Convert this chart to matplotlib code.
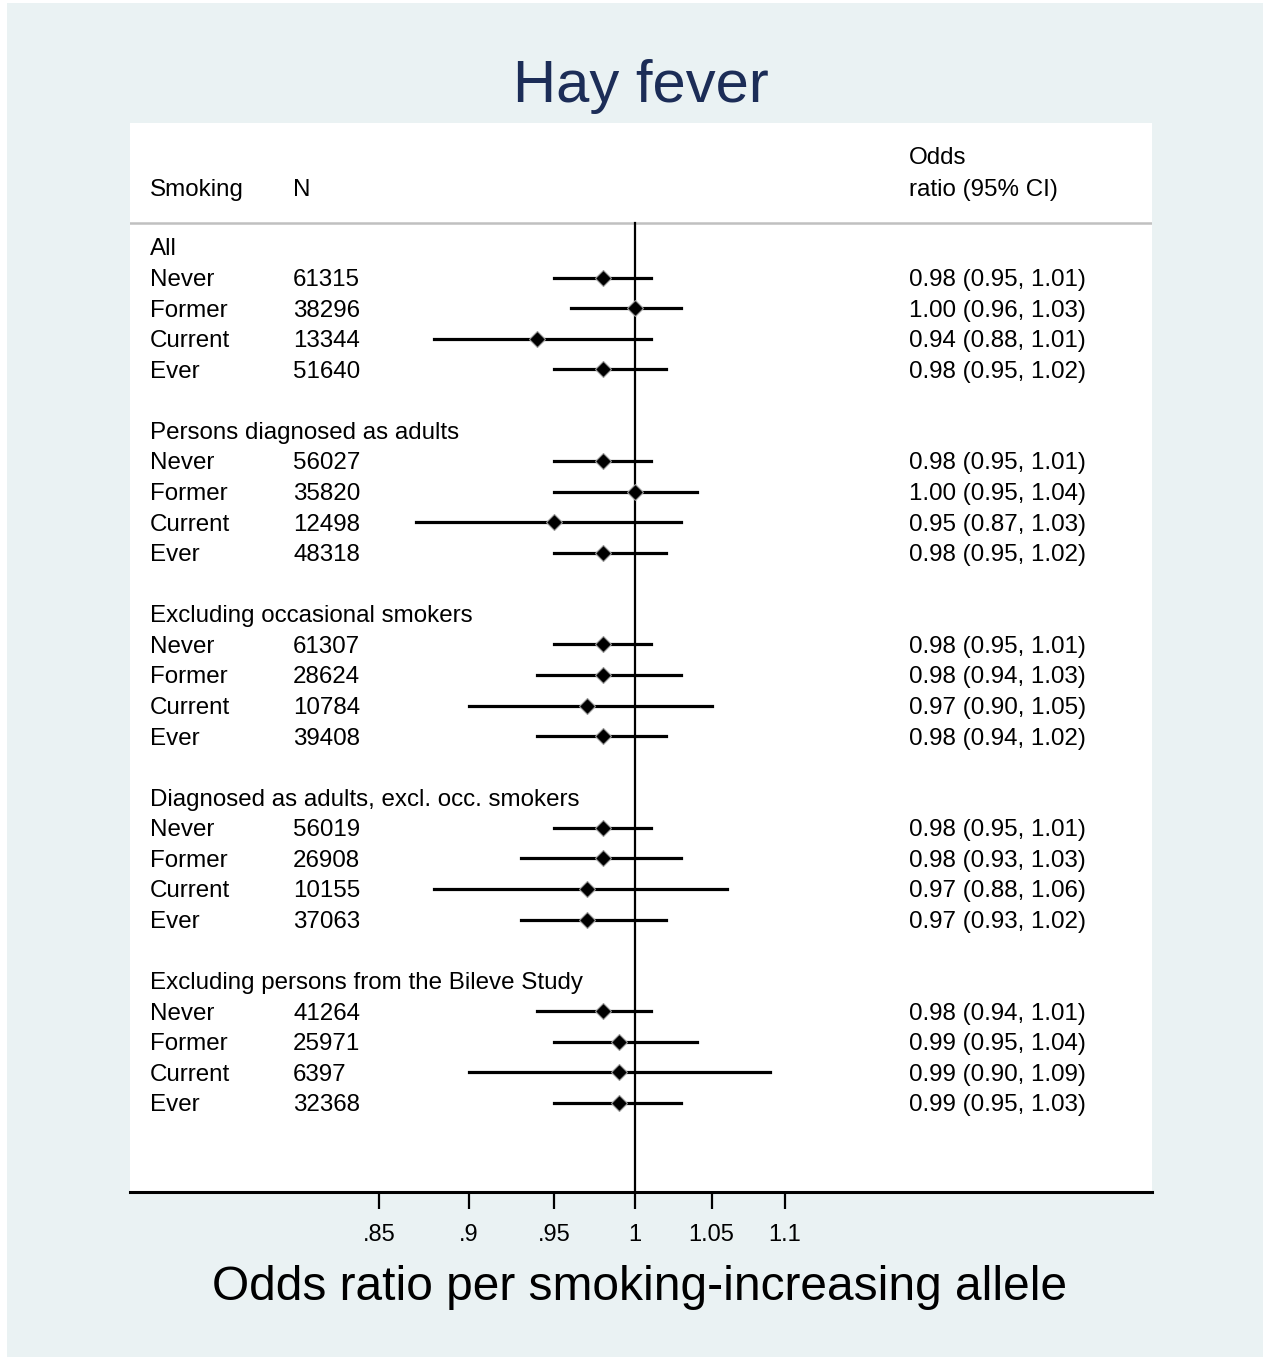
import matplotlib.pyplot as plt
from matplotlib.patches import Rectangle

plt.rcParams['font.family'] = ['Liberation Sans', 'DejaVu Sans']

# subgroups and smoking categories
groups = ["All", "Persons diagnosed as adults", "Excluding occasional smokers",
          "Diagnosed as adults, excl. occ. smokers",
          "Excluding persons from the Bileve Study"]
status = ["Never", "Former", "Current", "Ever"]

# sample sizes per group (Never, Former, Current, Ever)
n_all = [61315, 38296, 13344, 51640]
n_adults = [56027, 35820, 12498, 48318]
n_exocc = [61307, 28624, 10784, 39408]
n_adults_exocc = [56019, 26908, 10155, 37063]
n_nobileve = [41264, 25971, 6397, 32368]

# odds ratios with 95% CI
or_all = [0.98, 1.00, 0.94, 0.98]
lo_all = [0.95, 0.96, 0.88, 0.95]
hi_all = [1.01, 1.03, 1.01, 1.02]

or_adults = [0.98, 1.00, 0.95, 0.98]
lo_adults = [0.95, 0.95, 0.87, 0.95]
hi_adults = [1.01, 1.04, 1.03, 1.02]

or_exocc = [0.98, 0.98, 0.97, 0.98]
lo_exocc = [0.95, 0.94, 0.90, 0.94]
hi_exocc = [1.01, 1.03, 1.05, 1.02]

or_adults_exocc = [0.98, 0.98, 0.97, 0.97]
lo_adults_exocc = [0.95, 0.93, 0.88, 0.93]
hi_adults_exocc = [1.01, 1.03, 1.06, 1.02]

or_nobileve = [0.98, 0.99, 0.99, 0.99]
lo_nobileve = [0.94, 0.95, 0.90, 0.95]
hi_nobileve = [1.01, 1.04, 1.09, 1.03]

ticks = [0.85, 0.9, 0.95, 1, 1.05, 1.1]
tick_labels = [".85", ".9", ".95", "1", "1.05", "1.1"]

all_n = [n_all, n_adults, n_exocc, n_adults_exocc, n_nobileve]
all_or = [or_all, or_adults, or_exocc, or_adults_exocc, or_nobileve]
all_lo = [lo_all, lo_adults, lo_exocc, lo_adults_exocc, lo_nobileve]
all_hi = [hi_all, hi_adults, hi_exocc, hi_adults_exocc, hi_nobileve]

bg = '#EAF2F3'
fig = plt.figure(figsize=(12.63, 13.59), dpi=100)
fig.patch.set_facecolor('white')
fig.patches.append(Rectangle((7 / 1263, 2 / 1359), 1 - 7 / 1263, 1 - 5 / 1359,
                             transform=fig.transFigure, facecolor=bg,
                             edgecolor='none', zorder=-10))

ax = fig.add_axes([130 / 1263, 1 - 1192 / 1359, 1022 / 1263, 1069 / 1359])
ax.set_facecolor('white')
ax.set_xscale('log')
ax.set_xlim(0.7256, 1.389)
ax.set_ylim(30.91, -4.056)

fs = 17.4
dy = 0.08  # text sits a touch below the marker row
xl, xn, xo = 0.0196, 0.1595, 0.7622
tr = ax.get_yaxis_transform()

# column headers
ax.text(xl, -1.96 + dy, "Smoking", transform=tr, fontsize=fs, va='center')
ax.text(xn, -1.96 + dy, "N", transform=tr, fontsize=fs, va='center')
ax.text(xo, -2.98 + dy, "Odds", transform=tr, fontsize=fs, va='center')
ax.text(xo, -1.96 + dy, "ratio (95% CI)", transform=tr, fontsize=fs, va='center')
ax.axhline(-0.785, color='#C0C0C0', lw=1.8)

# reference line at 1
ax.plot([1, 1], [-0.785, 30.91], color='black', lw=1.6, zorder=2)

row = 0
for g in range(len(groups)):
    ax.text(xl, row + dy, groups[g], transform=tr, fontsize=fs, va='center')
    row += 1
    for i in range(4):
        ax.plot([all_lo[g][i], all_hi[g][i]], [row, row], color='black', lw=2.3, zorder=3)
        ax.plot(all_or[g][i], row, marker='D', ms=8.5, color='black',
                mec='#9A9A9A', mew=0.8, zorder=4)
        ax.text(xl, row + dy, status[i], transform=tr, fontsize=fs, va='center')
        ax.text(xn, row + dy, str(all_n[g][i]), transform=tr, fontsize=fs, va='center')
        ax.text(xo, row + dy, "%.2f (%.2f, %.2f)" % (all_or[g][i], all_lo[g][i], all_hi[g][i]),
                transform=tr, fontsize=fs, va='center')
        row += 1
    row += 1

for s in ['top', 'left', 'right']:
    ax.spines[s].set_visible(False)
ax.spines['bottom'].set_linewidth(2.2)
ax.set_yticks([])
ax.set_xticks(ticks)
ax.set_xticklabels(tick_labels)
ax.minorticks_off()
ax.tick_params(axis='x', length=12, width=1.6, labelsize=17, pad=11)

fig.text(641 / 1263, 1 - 86 / 1359, "Hay fever", fontsize=43, color='#1C2D57',
         ha='center', va='center')
fig.text(640 / 1263, 1 - 1288 / 1359, "Odds ratio per smoking-increasing allele",
         fontsize=34.5, ha='center', va='center')

fig.savefig('out.png', dpi=100, facecolor=fig.get_facecolor())
